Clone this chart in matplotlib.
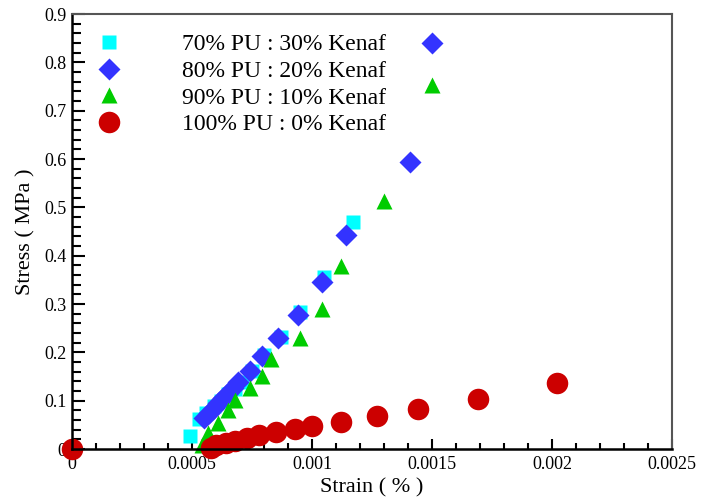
import matplotlib
matplotlib.use('Agg')
import matplotlib.pyplot as plt
from matplotlib.ticker import MultipleLocator, AutoMinorLocator, FuncFormatter

plt.rcParams['font.family'] = ['Liberation Serif', 'DejaVu Serif']

# Strain (%) / Stress (MPa)
strain_70 = [0.00049, 0.00053, 0.00056, 0.00059, 0.00062, 0.00065, 0.00068, 0.00071,
             0.00075, 0.00080, 0.00087, 0.00095, 0.00105, 0.00117]
stress_70 = [0.027, 0.062, 0.075, 0.088, 0.100, 0.113, 0.125, 0.138,
             0.162, 0.195, 0.232, 0.283, 0.356, 0.470]

strain_80 = [0.00055, 0.00057, 0.00059, 0.00061, 0.00063, 0.00065, 0.00067, 0.00069,
             0.00074, 0.00079, 0.00086, 0.00094, 0.00104, 0.00114, 0.00141, 0.00150]
stress_80 = [0.064, 0.074, 0.085, 0.095, 0.106, 0.116, 0.127, 0.138,
             0.161, 0.192, 0.230, 0.278, 0.345, 0.443, 0.594, 0.840]

strain_90 = [0.00054, 0.000565, 0.00061, 0.00065, 0.00068, 0.00074, 0.00079, 0.00083,
             0.00095, 0.00104, 0.00112, 0.00130, 0.00150]
stress_90 = [0.008, 0.033, 0.054, 0.080, 0.101, 0.126, 0.151, 0.186,
             0.230, 0.290, 0.378, 0.514, 0.754]

strain_100 = [0.0, 0.00058, 0.00060, 0.00064, 0.00068, 0.00073, 0.00078, 0.00085,
              0.00093, 0.00100, 0.00112, 0.00127, 0.00144, 0.00169, 0.00202]
stress_100 = [0.0, 0.002, 0.008, 0.012, 0.016, 0.022, 0.029, 0.036,
              0.041, 0.047, 0.056, 0.068, 0.082, 0.104, 0.136]

labels = ['70% PU : 30% Kenaf', '80% PU : 20% Kenaf',
          '90% PU : 10% Kenaf', '100% PU : 0% Kenaf']

fig = plt.figure(figsize=(7.02, 4.99), dpi=100)
ax = fig.add_axes([0.1026, 0.1002, 0.8547, 0.8717])

ax.plot(strain_70, stress_70, 's', color='#00ffff', ms=10.5, mec='none', label=labels[0], clip_on=False)
ax.plot(strain_80, stress_80, 'D', color='#3333ff', ms=11.5, mec='none', label=labels[1], clip_on=False)
ax.plot(strain_90, stress_90, '^', color='#00cc00', ms=12, mec='none', label=labels[2], clip_on=False)
ax.plot(strain_100, stress_100, 'o', color='#cc0000', ms=15.5, mec='none', label=labels[3], clip_on=False)

ax.set_xlim(0, 0.0025)
ax.set_ylim(0, 0.9)
ax.xaxis.set_major_locator(MultipleLocator(0.0005))
ax.yaxis.set_major_locator(MultipleLocator(0.1))
ax.xaxis.set_minor_locator(AutoMinorLocator(5))
ax.yaxis.set_minor_locator(AutoMinorLocator(5))
fmt = FuncFormatter(lambda v, p: f'{v:g}')
ax.xaxis.set_major_formatter(fmt)
ax.yaxis.set_major_formatter(fmt)

ax.tick_params(which='both', direction='in', top=False, right=False, labelsize=13, width=1.5)
ax.tick_params(axis='y', which='major', length=9, pad=4)
ax.tick_params(axis='y', which='minor', length=6.5)
ax.tick_params(axis='x', which='major', length=7, pad=5)
ax.tick_params(axis='x', which='minor', length=4)

for s in ['left', 'bottom']:
    ax.spines[s].set_linewidth(1.8)
    ax.spines[s].set_color('black')
for s in ['top', 'right']:
    ax.spines[s].set_linewidth(1.5)
    ax.spines[s].set_color('#555555')

ax.set_xlabel('Strain ( % )', fontsize=16, labelpad=4)
ax.set_ylabel('Stress ( MPa )', fontsize=16, labelpad=6)

ax.legend(loc='upper left', bbox_to_anchor=(0.042, 0.955), frameon=False, fontsize=17,
          handlelength=1.0, handletextpad=2.6, labelspacing=0.22, borderpad=0, borderaxespad=0)

fig.savefig('out.png', dpi=100)
